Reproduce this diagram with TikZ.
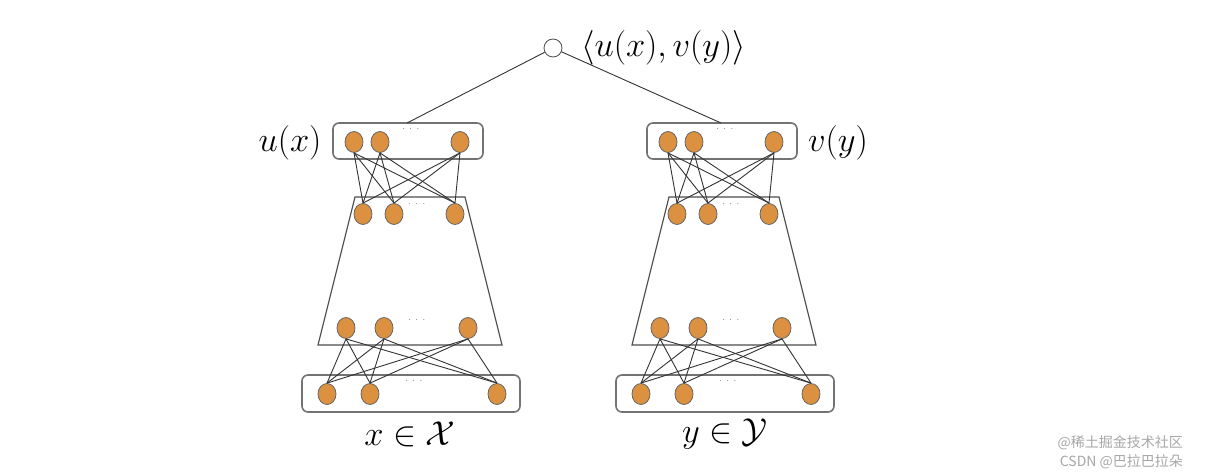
\documentclass[tikz,border=0pt]{standalone}
\usepackage{amsmath,amssymb}
\usepackage{fontspec}
\usetikzlibrary{shapes.geometric}
\newfontfamily\cjk{Noto Sans CJK SC}
\definecolor{neufill}{HTML}{DC9140}
\begin{document}
\begin{tikzpicture}[x=0.5pt,y=-0.5pt,
  neu/.style={ellipse,draw=black!60,fill=neufill,line width=0.4pt,minimum width=9pt,minimum height=10.5pt,inner sep=0pt},
  box/.style={draw=black!55,rounded corners=3pt,line width=0.8pt},
  trap/.style={draw=black!70,line width=0.6pt},
  lk/.style={draw=black!80,line width=0.45pt},
  dd/.style={font=\fontsize{3}{3}\selectfont,text=black!40},
  lab/.style={font=\fontsize{17}{17}\selectfont}]
\useasboundingbox (0,0) rectangle (1206,476);
\node[circle,draw=black!70,fill=white,minimum size=9pt,inner sep=0pt] (top) at (553,48) {};
\node[lab,anchor=west] (toplab) at (574,48) {$\langle u(x),v(y)\rangle$};
\foreach \s/\o/\n in {L/0/l,R/314/r}{
  \begin{scope}[xshift=\o*0.5pt]
  \draw[box] (333,123) rectangle (483,159);
  \draw[box] (302,375) rectangle (520,412);
  \draw[trap] (355,197) -- (465,197) -- (502,345) -- (318,345) -- cycle;
  \coordinate (\s tb) at (407,123);
  \node[neu] (\s a1) at (354,142) {}; \node[neu] (\s a2) at (380,142) {}; \node[neu] (\s a3) at (460,142) {};
  \node[neu] (\s b1) at (363,214) {}; \node[neu] (\s b2) at (394,214) {}; \node[neu] (\s b3) at (455,214) {};
  \node[neu] (\s c1) at (346,328) {}; \node[neu] (\s c2) at (384,328) {}; \node[neu] (\s c3) at (468,328) {};
  \node[neu] (\s d1) at (327,394) {}; \node[neu] (\s d2) at (370,394) {}; \node[neu] (\s d3) at (497,394) {};
  \node[dd] (\s e1) at (412,129) {$\cdots$};
  \node[dd] (\s e2) at (418,204) {$\cdots$};
  \node[dd] (\s e3) at (418,320) {$\cdots$};
  \node[dd] (\s e4) at (415,381) {$\cdots$};
  \foreach \i in {1,2,3}{\foreach \j in {1,2,3}{
    \draw[lk] (\s a\i.south) -- (\s b\j.north);
    \draw[lk] (\s c\i.south) -- (\s d\j.north);}}
  \end{scope}
}
\draw[lk] (top) -- (Ltb);
\draw[lk] (top) -- (Rtb);
\node[lab] (ux) at (290,143) {$u(x)$};
\node[lab] (vy) at (838,143) {$v(y)$};
\node[lab] (xX) at (410,434) {$x\in\mathcal{X}$};
\node[lab] (yY) at (725,434) {$y\in\mathcal{Y}$};
\node[font=\cjk\fontsize{7}{7}\selectfont,text=black!35,anchor=east] (wm1) at (1190,443) {@稀土掘金技术社区};
\node[font=\cjk\fontsize{7}{7}\selectfont,text=black!35,anchor=east] (wm2) at (1190,462) {CSDN @巴拉巴拉朵};
\end{tikzpicture}
\end{document}
